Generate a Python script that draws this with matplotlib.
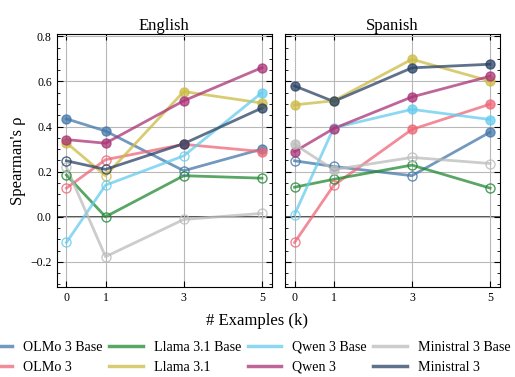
import matplotlib
matplotlib.use("Agg")
import matplotlib.pyplot as plt
from matplotlib.lines import Line2D
from matplotlib.ticker import MultipleLocator

plt.rcParams['font.family'] = ['Liberation Serif', 'DejaVu Serif']
plt.rcParams['mathtext.fontset'] = 'stix'

k = [0, 1, 3, 5]
models = ["OLMo 3 Base", "OLMo 3", "Llama 3.1 Base", "Llama 3.1",
          "Qwen 3 Base", "Qwen 3", "Ministral 3 Base", "Ministral 3"]
colors = ["#4477AA", "#EE6677", "#228833", "#CCBB44",
          "#66CCEE", "#AA3377", "#BBBBBB", "#2A4265"]

english = {
    "OLMo 3 Base":      [0.434, 0.380, 0.204, 0.300],
    "OLMo 3":           [0.127, 0.253, 0.321, 0.289],
    "Llama 3.1 Base":   [0.185, 0.000, 0.182, 0.171],
    "Llama 3.1":        [0.328, 0.182, 0.555, 0.504],
    "Qwen 3 Base":      [-0.114, 0.140, 0.270, 0.550],
    "Qwen 3":           [0.342, 0.326, 0.514, 0.661],
    "Ministral 3 Base": [0.220, -0.177, -0.012, 0.015],
    "Ministral 3":      [0.248, 0.210, 0.324, 0.482],
}
english_sig = {
    "OLMo 3 Base":      [1, 1, 0, 1],
    "OLMo 3":           [0, 0, 1, 1],
    "Llama 3.1 Base":   [0, 0, 0, 0],
    "Llama 3.1":        [1, 0, 1, 1],
    "Qwen 3 Base":      [0, 0, 0, 1],
    "Qwen 3":           [1, 1, 1, 1],
    "Ministral 3 Base": [0, 0, 0, 0],
    "Ministral 3":      [0, 0, 1, 1],
}
spanish = {
    "OLMo 3 Base":      [0.248, 0.223, 0.182, 0.375],
    "OLMo 3":           [-0.114, 0.139, 0.387, 0.499],
    "Llama 3.1 Base":   [0.131, 0.166, 0.229, 0.127],
    "Llama 3.1":        [0.496, 0.514, 0.698, 0.601],
    "Qwen 3 Base":      [0.010, 0.394, 0.476, 0.431],
    "Qwen 3":           [0.289, 0.391, 0.531, 0.623],
    "Ministral 3 Base": [0.321, 0.209, 0.263, 0.236],
    "Ministral 3":      [0.580, 0.511, 0.660, 0.676],
}
spanish_sig = {
    "OLMo 3 Base":      [0, 0, 0, 1],
    "OLMo 3":           [0, 0, 1, 1],
    "Llama 3.1 Base":   [0, 0, 0, 0],
    "Llama 3.1":        [1, 1, 1, 1],
    "Qwen 3 Base":      [0, 0, 1, 1],
    "Qwen 3":           [1, 1, 1, 1],
    "Ministral 3 Base": [1, 1, 0, 0],
    "Ministral 3":      [1, 1, 1, 1],
}
titles = ["English", "Spanish"]

fig = plt.figure(figsize=(5.15, 3.77), dpi=100)
ax1 = fig.add_axes([0.110, 0.2395, 0.4176, 0.6703])
ax2 = fig.add_axes([0.553, 0.2395, 0.4176, 0.6703], sharey=ax1)

for ax, data, sig, title in [(ax1, english, english_sig, titles[0]),
                             (ax2, spanish, spanish_sig, titles[1])]:
    ax.grid(True, color="#b8b8b8", linewidth=0.8, zorder=0)
    ax.axhline(0, color="#333333", linewidth=1.2, zorder=1)
    for m, c in zip(models, colors):
        vals = data[m]
        ax.plot(k, vals, color=c, linewidth=2.0, alpha=0.75, zorder=2)
        for x, y, s in zip(k, vals, sig[m]):
            if s:
                ax.plot([x], [y], marker='o', markersize=6.5, color=c,
                        markeredgecolor=c, alpha=0.75, linestyle='none', zorder=3)
            else:
                ax.plot([x], [y], marker='o', markersize=6.5, markerfacecolor='none',
                        markeredgecolor=c, markeredgewidth=1.0, alpha=0.8,
                        linestyle='none', zorder=3)
    ax.set_title(title, fontsize=12, pad=3)
    ax.set_xticks(k)
    ax.set_xlim(-0.25, 5.25)
    ax.set_ylim(-0.31, 0.81)
    ax.yaxis.set_major_locator(MultipleLocator(0.2))
    ax.yaxis.set_minor_locator(MultipleLocator(0.05))
    ax.tick_params(which='both', direction='in', top=True, right=True, labelsize=8.5)
    ax.tick_params(which='major', length=4)
    ax.tick_params(which='minor', length=2)
    ax.tick_params(axis='x', which='minor', bottom=False, top=False)

plt.setp(ax2.get_yticklabels(), visible=False)
ax1.set_ylabel("Spearman's ρ", fontsize=12, labelpad=3)
fig.text(0.5, 0.148, "# Examples (k)", ha='center', va='center', fontsize=12)

handles = [Line2D([0], [0], color=c, linewidth=2.5, alpha=0.75) for c in colors]
fig.legend(handles, models, loc='lower center', bbox_to_anchor=(0.475, -0.025),
           ncol=4, frameon=False, fontsize=10.1, handlelength=2.4,
           handletextpad=0.8, columnspacing=0.45, labelspacing=0.5)

fig.savefig("out.png", dpi=100)
